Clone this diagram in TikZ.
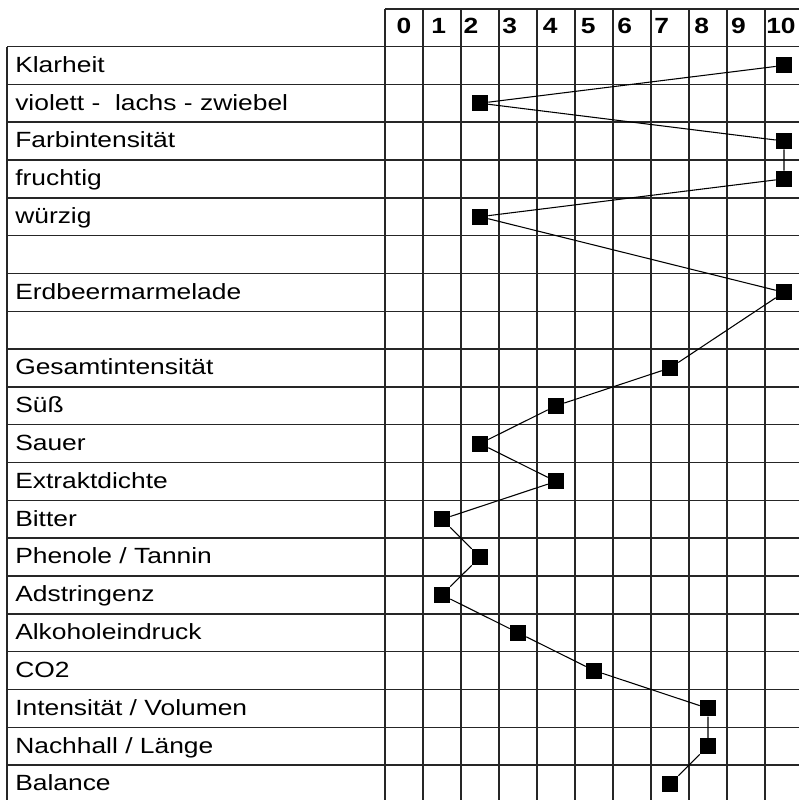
\documentclass[tikz,border=0pt]{standalone}
\usepackage{fontspec}
\setmainfont[FakeStretch=1.2]{Liberation Sans}
\begin{document}
\begin{tikzpicture}[x=0.75pt,y=-0.75pt,
  gridline/.style={line width=1.1pt,black!85},
  lab/.style={anchor=base west,inner sep=0pt,font=\fontsize{16.5}{19}\selectfont},
  num/.style={anchor=base west,inner sep=0pt,font=\fontsize{16.5}{19}\selectfont\bfseries},
  mk/.style={rectangle,fill=black,draw=none,minimum size=12pt,inner sep=0pt},
  conn/.style={line width=0.8pt,black}]
\useasboundingbox (0,0) rectangle (799,800);
\begin{scope}
\clip (0,0) rectangle (799,800);
% horizontal lines
\foreach \j in {0,...,20} \draw[gridline] (7,46.5+37.82*\j) -- (803,46.5+37.82*\j);
\draw[gridline] (385,9) -- (803,9);
% vertical lines
\draw[gridline] (7,46.5) -- (7,803);
\foreach \i in {0,...,11} \draw[gridline] (385+38*\i,9) -- (385+38*\i,803);
\end{scope}
% header numbers
\foreach \n/\x in {0/396.4,1/431,2/463.4,3/502,4/542.5,5/580.7,6/617,7/654,8/694,9/730.8,10/766}
  \node[num] (h\n) at (\x,33.5) {\n};
% labels
\foreach \t [count=\k from 0] in {Klarheit,{violett -~ lachs - zwiebel},Farbintensität,fruchtig,würzig,{},Erdbeermarmelade,{},Gesamtintensität,Süß,Sauer,Extraktdichte,Bitter,{Phenole / Tannin},Adstringenz,Alkoholeindruck,CO2,{Intensität / Volumen},{Nachhall / Länge},Balance}
  \node[lab] (l\k) at (15,46.5+37.82*\k+25.8) {\t};
% markers
\foreach \r/\v in {0/10,1/2,2/10,3/10,4/2,6/10,8/7,9/4,10/2,11/4,12/1,13/2,14/1,15/3,16/5,17/8,18/8,19/7}
  \node[mk] (m\r) at (385+38*\v+19,46.5+37.82*\r+18.9) {};
% connectors
\draw[conn] (m0) -- (m1) -- (m2) -- (m3) -- (m4) -- (m6) -- (m8) -- (m9) -- (m10) -- (m11) -- (m12) -- (m13) -- (m14) -- (m15) -- (m16) -- (m17) -- (m18) -- (m19);
\end{tikzpicture}
\end{document}
